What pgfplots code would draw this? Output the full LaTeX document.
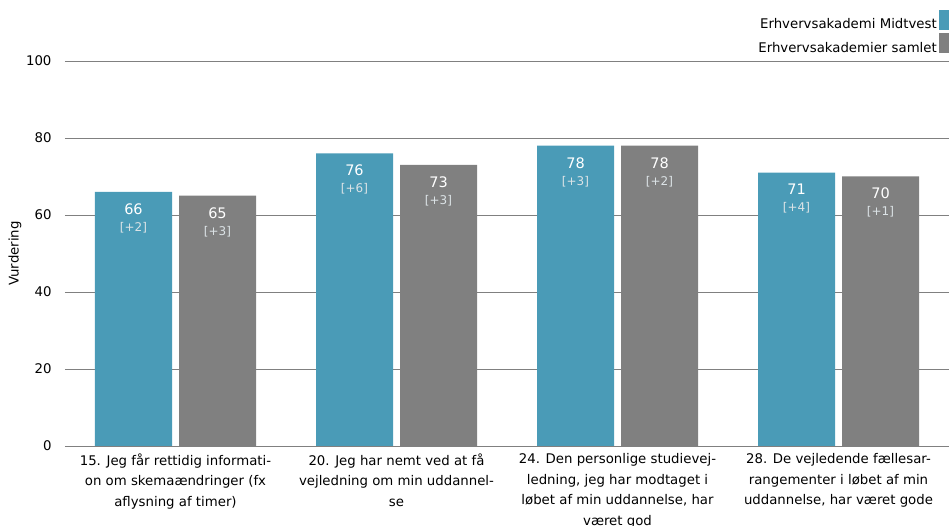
\documentclass[border=0pt]{standalone}
\usepackage{fontspec}
\setmainfont{DejaVu Sans}
\usepackage{pgfplots}
\usepackage{pgfplotstable}
\pgfplotsset{compat=1.18}
\definecolor{cblue}{HTML}{4A9BB7}
\definecolor{cgray}{HTML}{808080}
\definecolor{clab}{HTML}{DCE3E6}
\pgfplotstableread{
x y d
0 66 2
1 76 6
2 78 3
3 71 4
}\tblue
\pgfplotstableread{
x y d
0 65 3
1 73 3
2 78 2
3 70 1
}\tgray
\begin{document}
\begin{tikzpicture}
\begin{axis}[
  name=ax,
  scale only axis, width=884pt, height=385pt,
  xmin=-0.5, xmax=3.5, ymin=0, ymax=100,
  ybar=7pt, bar width=77pt,
  xtick={0,1,2,3},
  xticklabels={
    {15. Jeg får rettidig informati-\\on om skemaændringer (fx\\aflysning af timer)},
    {20. Jeg har nemt ved at få\\vejledning om min uddannel-\\se},
    {24. Den personlige studievej-\\ledning, jeg har modtaget i\\løbet af min uddannelse, har\\været god},
    {28. De vejledende fællesar-\\rangementer i løbet af min\\uddannelse, har været gode}},
  xticklabel style={align=center, font=\fontsize{13.3}{20.5}\selectfont, yshift=-4pt},
  ytick={0,20,...,100},
  yticklabel style={font=\fontsize{13.3}{16}\selectfont, xshift=-10pt},
  /pgf/number format/assume math mode=true,
  ymajorgrids, grid style={draw=cgray, line width=0.9pt},
  axis line style={draw=none}, major tick length=0pt,
  ylabel={Vurdering},
  every axis y label/.style={at={(axis description cs:-0.0566,0.5)}, rotate=90, anchor=center, font=\fontsize{13.3}{16}\selectfont},
  legend style={at={(1,1.1325)}, anchor=north east, draw=none, fill=none, inner sep=0pt,
    legend cell align=right, font=\fontsize{13.3}{16}\selectfont, row sep=1pt,
    /tikz/every even column/.append style={column sep=2pt}},
  legend plot pos=right,
  legend image code/.code={\fill[#1] (0pt,-5.5pt) rectangle (10pt,14.5pt);},
  nodes near coords={\pgfmathprintnumber{\pgfplotspointmeta}\\{\fontsize{12}{14}\selectfont\color{clab}[+\pgfmathprintnumber[fixed,precision=0]{\delta}]}},
  every node near coord/.append style={anchor=north, yshift=-11.5pt, align=center, text=white, inner sep=0pt, font=\fontsize{14.5}{17}\selectfont},
  visualization depends on={\thisrow{d} \as \delta},
]
\addplot[fill=cblue, draw=none] table[x=x,y=y] {\tblue};
\addplot[fill=cgray, draw=none] table[x=x,y=y] {\tgray};
\legend{Erhvervsakademi Midtvest, Erhvervsakademier samlet}
\end{axis}
\pgfresetboundingbox
\path[use as bounding box] ([shift={(-65pt,-80pt)}]ax.south west) rectangle ([shift={(0pt,61pt)}]ax.north east);
\end{tikzpicture}
\end{document}
